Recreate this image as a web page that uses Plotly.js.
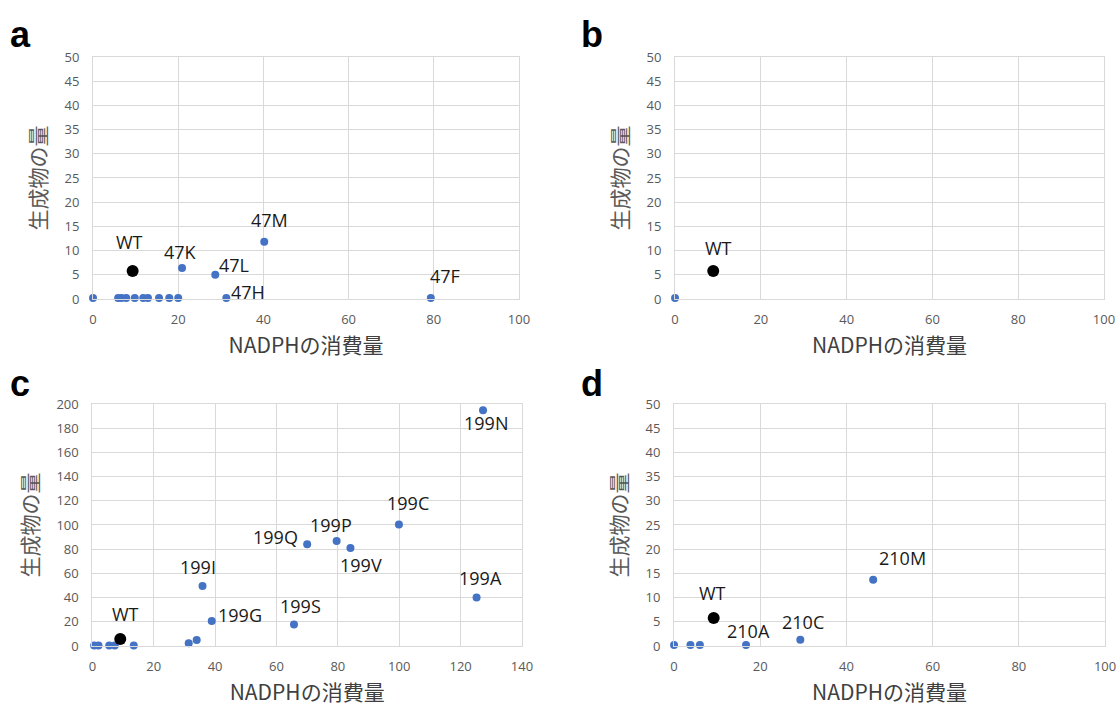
<!DOCTYPE html>
<html>
<head>
<meta charset="utf-8">
<script src="https://cdn.plot.ly/plotly-3.0.1.min.js"></script>
<style>html,body{margin:0;padding:0;background:#fff;}#chart{width:1118px;height:707px;}</style>
</head>
<body>
<div id="chart"></div>
<script>
// ---- data ----
const xTitle = 'NADPHの消費量';
const yTitle = '生成物の量';
const panelLetters = ['a', 'b', 'c', 'd'];

// panel a
const aX = [0, 5.9, 6.7, 7.8, 9.8, 11.8, 12.9, 15.5, 17.9, 20.0, 20.9, 28.7, 31.3, 40.2, 79.3];
const aY = [0.2, 0.2, 0.2, 0.2, 0.2, 0.2, 0.2, 0.2, 0.2, 0.2, 6.4, 5.0, 0.2, 11.8, 0.2];
const aLabels = ['', '', '', '', '', '', '', '', '', '', '47K', '47L', '47H', '47M', '47F'];
const aWT = [9.3, 5.8];

// panel b
const bX = [0];
const bY = [0.2];
const bLabels = [''];
const bWT = [8.9, 5.8];

// panel c
const cX = [-0.3, 0.6, 2.0, 5.5, 7.3, 13.5, 31.4, 34.0, 38.9, 35.9, 65.7, 70.0, 79.6, 84.1, 99.9, 125.2, 127.3];
const cY = [0.5, 0.5, 0.5, 0.5, 0.5, 0.5, 2.2, 4.9, 20.6, 49.6, 17.8, 84.0, 86.7, 80.9, 100.4, 40.1, 194.8];
const cLabels = ['', '', '', '', '', '', '', '', '199G', '199I', '199S', '199Q', '199P', '199V', '199C', '199A', '199N'];
const cWT = [9.1, 5.8];

// panel d
const dX = [0, 3.8, 6.0, 16.7, 29.3, 46.2];
const dY = [0.2, 0.2, 0.2, 0.2, 1.3, 13.7];
const dLabels = ['', '', '', '210A', '210C', '210M'];
const dWT = [9.2, 5.8];

const wtLabel = 'WT';

// ---- styling ----
const BLUE = '#4472C4';
const GRID = '#d9d9d9';
const TICKC = '#595959';
const TICKFONT = {family: '"Open Sans", "Noto Sans CJK JP", sans-serif', size: 13, color: TICKC};
const TITLEFONT = {family: '"Noto Sans CJK JP", "Noto Sans", sans-serif', size: 21, color: '#404040'};
const LABELFONT = {family: '"Open Sans", "Noto Sans", sans-serif', size: 18, color: '#1a1a1a'};

// label offsets in pixels (screen: +x right, +y down)
const labelOffsets = {
  a: {'WT': [-3, -29], '47K': [-2, -16], '47L': [19, -10], '47H': [22, -6], '47M': [5, -22], '47F': [14, -22]},
  b: {'WT': [5, -23]},
  c: {'WT': [5, -25], '199Q': [-32, -7], '199P': [-6, -16], '199V': [11, 17], '199I': [-5, -19], '199G': [28, -6],
      '199S': [7, -18], '199N': [3, 13], '199C': [9, -21], '199A': [4, -19]},
  d: {'WT': [-1, -25], '210A': [2, -14], '210C': [3, -18], '210M': [29, -22]}
};

const panels = [
  {key: 'a', xs: aX, ys: aY, labels: aLabels, wt: aWT, ax: '', xr: [0, 100], yr: [0, 50], ydt: 5,
   xd: [0.0832, 0.4642], yd: [0.5771, 0.9194], letterPos: [20, 34]},
  {key: 'b', xs: bX, ys: bY, labels: bLabels, wt: bWT, ax: '2', xr: [0, 100], yr: [0, 50], ydt: 5,
   xd: [0.6038, 0.9875], yd: [0.5771, 0.9194], letterPos: [592, 34]},
  {key: 'c', xs: cX, ys: cY, labels: cLabels, wt: cWT, ax: '3', xr: [0, 140], yr: [0, 200], ydt: 20,
   xd: [0.0826, 0.4669], yd: [0.0863, 0.4286], letterPos: [20, 383]},
  {key: 'd', xs: dX, ys: dY, labels: dLabels, wt: dWT, ax: '4', xr: [0, 100], yr: [0, 50], ydt: 5,
   xd: [0.6029, 0.9884], yd: [0.0863, 0.4286], letterPos: [592, 383]}
];

const traces = [];
const annotations = [];
const layout = {
  width: 1118, height: 707, autosize: false,
  margin: {l: 0, r: 0, t: 0, b: 0},
  paper_bgcolor: '#ffffff', plot_bgcolor: '#ffffff',
  showlegend: false,
  annotations: annotations
};

panels.forEach((p, i) => {
  const xa = 'x' + p.ax, ya = 'y' + p.ax;
  traces.push({
    type: 'scatter', mode: 'markers', x: p.xs, y: p.ys, xaxis: xa, yaxis: ya,
    marker: {color: BLUE, size: 8}, cliponaxis: false, hoverinfo: 'x+y'
  });
  traces.push({
    type: 'scatter', mode: 'markers', x: [p.wt[0]], y: [p.wt[1]], xaxis: xa, yaxis: ya,
    marker: {color: '#000000', size: 12}, cliponaxis: false, hoverinfo: 'x+y'
  });
  const offs = labelOffsets[p.key];
  const addLabel = (txt, x, y) => {
    const o = offs[txt] || [0, -18];
    annotations.push({
      xref: xa, yref: ya, x: x, y: y, text: txt, showarrow: false,
      xanchor: 'center', yanchor: 'middle', xshift: o[0], yshift: -o[1], font: LABELFONT
    });
  };
  addLabel(wtLabel, p.wt[0], p.wt[1]);
  p.labels.forEach((t, j) => { if (t) addLabel(t, p.xs[j], p.ys[j]); });

  annotations.push({
    xref: 'paper', yref: 'paper', x: p.letterPos[0] / 1118, y: 1 - p.letterPos[1] / 707,
    text: '<b>' + panelLetters[i] + '</b>', showarrow: false, xanchor: 'center', yanchor: 'middle',
    font: {family: '"Liberation Sans", Arial, sans-serif', size: 36, color: '#000000'}
  });

  layout['xaxis' + p.ax] = {
    domain: p.xd, anchor: ya, range: p.xr, dtick: 20, tick0: 0,
    showgrid: true, gridcolor: GRID, gridwidth: 1, zeroline: false,
    showline: true, linecolor: GRID, linewidth: 1, mirror: true,
    ticks: '', ticklabelstandoff: 8, tickfont: TICKFONT, fixedrange: true, automargin: false,
    title: {text: xTitle, font: TITLEFONT, standoff: 11}
  };
  layout['yaxis' + p.ax] = {
    domain: p.yd, anchor: xa, range: p.yr, dtick: p.ydt, tick0: 0,
    showgrid: true, gridcolor: GRID, gridwidth: 1, zeroline: false,
    showline: true, linecolor: GRID, linewidth: 1, mirror: true,
    ticks: '', ticklabelstandoff: 10, tickfont: TICKFONT, fixedrange: true, automargin: false,
    title: {text: yTitle, font: Object.assign({}, TITLEFONT, {size: 21, color: '#595959'}), standoff: 12}
  };
});

Plotly.newPlot('chart', traces, layout, {displayModeBar: false, staticPlot: true});
</script>
</body>
</html>
